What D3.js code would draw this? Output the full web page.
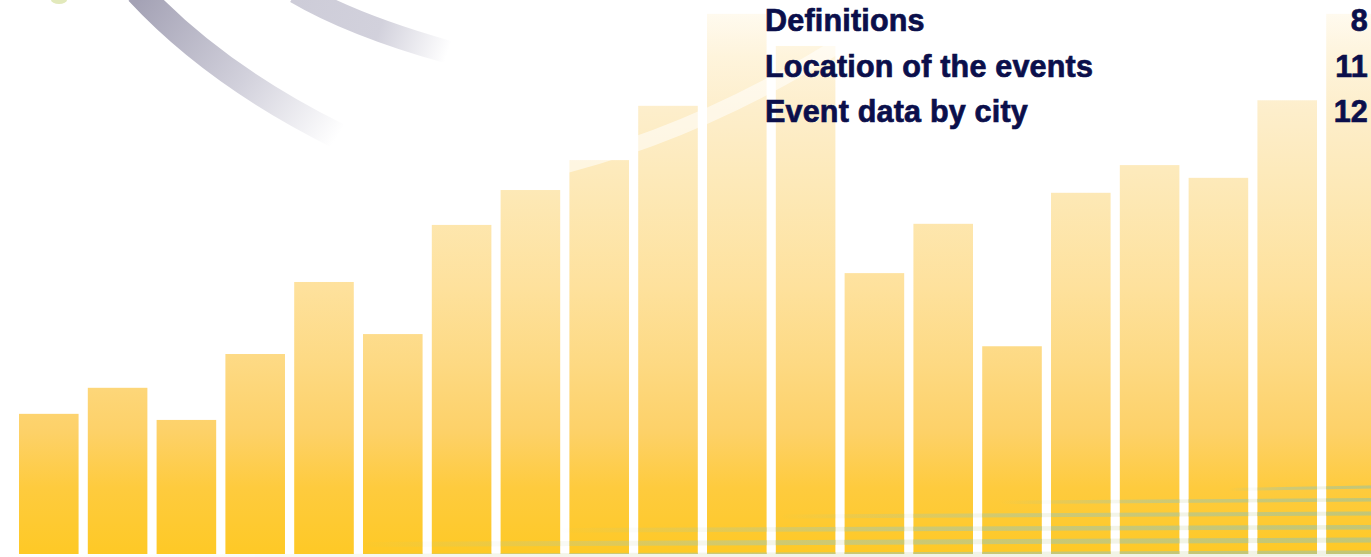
<!DOCTYPE html>
<html>
<head>
<meta charset="utf-8">
<script src="https://cdn.jsdelivr.net/npm/d3@7"></script>
<style>
  html, body { margin: 0; padding: 0; background: #fff; overflow: hidden; }
</style>
</head>
<body>
<div id="chart"></div>
<script>
// bar heights (0-100 of the full height)
const barValues = [25.3, 30.0, 24.2, 36.1, 49.1, 39.7, 59.4, 65.7, 71.1, 80.9,
                   97.5, 91.7, 50.7, 59.6, 37.5, 65.2, 70.2, 67.9, 81.9, 97.5];
const barIds = barValues.map((d, i) => i);

// table of contents entries
const tocLabels = ["Definitions", "Location of the events", "Event data by city"];
const tocPages = ["8", "11", "12"];

const width = 1371;
const height = 557;
const baseline = 554;

const svg = d3.select("#chart")
  .append("svg")
  .attr("width", width)
  .attr("height", height);

const defs = svg.append("defs");

const x = d3.scaleBand()
  .domain(barIds)
  .range([19, 1385.8])
  .paddingInner(0.134)
  .paddingOuter(0);

const y = d3.scaleLinear()
  .domain([0, 100])
  .range([baseline, 0]);

// yellow fill, light at the top of the page, saturated at the bottom
const barGrad = defs.append("linearGradient")
  .attr("id", "barGrad")
  .attr("gradientUnits", "userSpaceOnUse")
  .attr("x1", 0).attr("y1", 0)
  .attr("x2", 0).attr("y2", baseline);

[[0, "#fffcf5"], [0.1, "#fef4dc"], [0.2, "#fdeecb"], [0.36, "#fde8b4"],
 [0.52, "#fee19c"], [0.66, "#fdd982"], [0.78, "#fdd168"], [0.88, "#fecb3e"], [1, "#fec926"]]
  .forEach(([o, c]) => barGrad.append("stop").attr("offset", o).attr("stop-color", c));

// grey arcs, top left
const arcs = [
  { id: "arc1", d: "M138,-8 Q215,75 338,136", from: [138, 0], to: [338, 136], c0: "#a4a2b5", w: 26 },
  { id: "arc2", d: "M296,-8 Q352,25 448,52", from: [296, 0], to: [448, 52], c0: "#cdccd8", w: 23 }
];

arcs.forEach(a => {
  const g = defs.append("linearGradient")
    .attr("id", a.id)
    .attr("gradientUnits", "userSpaceOnUse")
    .attr("x1", a.from[0]).attr("y1", a.from[1])
    .attr("x2", a.to[0]).attr("y2", a.to[1]);
  g.append("stop").attr("offset", 0).attr("stop-color", a.c0);
  g.append("stop").attr("offset", 0.55).attr("stop-color", "#d2d1dc");
  g.append("stop").attr("offset", 1).attr("stop-color", "#ffffff");

  svg.append("path")
    .attr("d", a.d)
    .attr("fill", "none")
    .attr("stroke", `url(#${a.id})`)
    .attr("stroke-width", a.w);
});

// small green spot
svg.append("ellipse")
  .attr("cx", 59).attr("cy", 0)
  .attr("rx", 8).attr("ry", 4)
  .attr("fill", "#e2e9bb");

// bars
svg.append("g")
  .selectAll("rect")
  .data(barValues)
  .join("rect")
  .attr("x", (d, i) => x(i))
  .attr("y", d => y(d))
  .attr("width", x.bandwidth())
  .attr("height", d => baseline - y(d))
  .attr("fill", "url(#barGrad)");

// white swoosh over the bars
svg.append("path")
  .attr("d", "M540,172 Q700,135 850,38")
  .attr("fill", "none")
  .attr("stroke", "#ffffff")
  .attr("stroke-opacity", 0.55)
  .attr("stroke-width", 15);

// clip for the green bands (they mostly show over the bars)
defs.append("clipPath")
  .attr("id", "barClip")
  .selectAll("rect")
  .data(barValues)
  .join("rect")
  .attr("x", (d, i) => x(i))
  .attr("y", d => y(d))
  .attr("width", x.bandwidth())
  .attr("height", d => baseline - y(d));

// green bands, bottom right
const bands = [
  { x0: 1230, y0: 488, y1: 485.5, w: 3 },
  { x0: 1000, y0: 500.5, y1: 498, w: 3.5 },
  { x0: 780,  y0: 514.5, y1: 511.5, w: 4 },
  { x0: 560,  y0: 528, y1: 525, w: 4.5 },
  { x0: 360,  y0: 542, y1: 537.5, w: 5 },
  { x0: 0,    y0: 555, y1: 550.5, w: 6 }
];

bands.forEach((b, i) => {
  const g = defs.append("linearGradient")
    .attr("id", "band" + i)
    .attr("gradientUnits", "userSpaceOnUse")
    .attr("x1", b.x0).attr("y1", 0)
    .attr("x2", width).attr("y2", 0);
  g.append("stop").attr("offset", 0).attr("stop-color", "#c2c984").attr("stop-opacity", 0);
  g.append("stop").attr("offset", 0.4).attr("stop-color", "#c2c984").attr("stop-opacity", 0.75);
  g.append("stop").attr("offset", 1).attr("stop-color", "#bec67c").attr("stop-opacity", 0.92);
});

const bandPath = b => `M${b.x0},${b.y0} L${width},${b.y1} L${width},${b.y1 + b.w} L${b.x0},${b.y0 + b.w} Z`;

// faint everywhere
svg.append("g")
  .attr("opacity", 0.22)
  .selectAll("path")
  .data(bands)
  .join("path")
  .attr("d", bandPath)
  .attr("fill", (d, i) => `url(#band${i})`);

// full strength over bars
svg.append("g")
  .attr("clip-path", "url(#barClip)")
  .selectAll("path")
  .data(bands)
  .join("path")
  .attr("d", bandPath)
  .attr("fill", (d, i) => `url(#band${i})`);

// contents list
const toc = svg.append("g")
  .attr("font-family", "'Liberation Sans', Arial, sans-serif")
  .attr("font-weight", "bold")
  .attr("font-size", "30.5px")
  .attr("fill", "#0b0f4b")
  .attr("stroke", "#0b0f4b")
  .attr("stroke-width", 0.7)
  .attr("letter-spacing", "0.2px");

const rowY = d3.scalePoint()
  .domain(d3.range(tocLabels.length))
  .range([31, 122]);

toc.selectAll("text.label")
  .data(tocLabels)
  .join("text")
  .attr("class", "label")
  .attr("x", 765)
  .attr("y", (d, i) => rowY(i))
  .text(d => d);

toc.selectAll("text.page")
  .data(tocPages)
  .join("text")
  .attr("class", "page")
  .attr("x", 1368)
  .attr("y", (d, i) => rowY(i))
  .attr("text-anchor", "end")
  .text(d => d);
</script>
</body>
</html>
